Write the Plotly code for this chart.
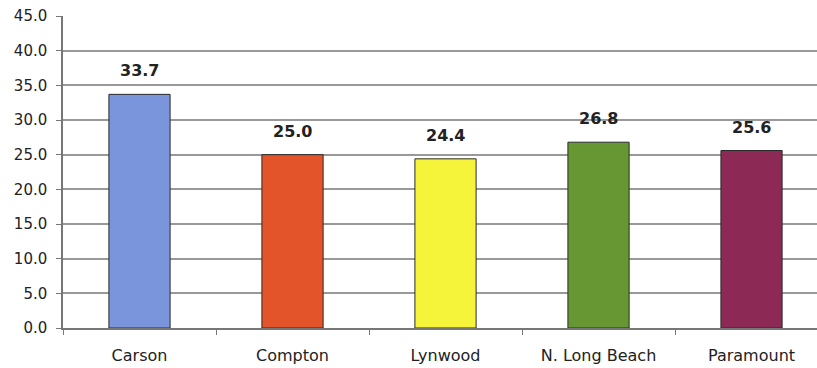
import plotly.graph_objects as go

# Data
cities = ["Carson", "Compton", "Lynwood", "N. Long Beach", "Paramount"]
values = [33.7, 25.0, 24.4, 26.8, 25.6]
colors = ["#7b95dc", "#e3542b", "#f6f43a", "#679733", "#8c2a55"]
y_ticks = [0, 5, 10, 15, 20, 25, 30, 35, 40, 45]

FONT = "DejaVu Sans, Arial, sans-serif"

fig = go.Figure()
fig.add_trace(go.Bar(
    x=cities,
    y=values,
    width=0.4,
    marker=dict(color=colors, line=dict(color="#2a2a2a", width=1)),
    hoverinfo="skip",
))

# Value labels above each bar
for c, v in zip(cities, values):
    fig.add_annotation(
        x=c, y=v, text=f"<b>{v:.1f}</b>", showarrow=False,
        yanchor="bottom", yshift=12,
        font=dict(family=FONT, size=16, color="#222222"),
    )

fig.update_layout(
    width=817, height=368,
    margin=dict(l=63, r=0, t=16, b=40),
    paper_bgcolor="white", plot_bgcolor="white",
    showlegend=False,
    bargap=0.6,
)
fig.update_xaxes(
    type="category",
    range=[-0.5, 4.428],
    showline=True, linecolor="#777777", linewidth=1.5,
    ticks="outside", tickson="boundaries", ticklen=5, tickcolor="#777777",
    ticklabelstandoff=12,
    tickfont=dict(family=FONT, size=16, color="#222222"),
    showgrid=False,
)
fig.update_yaxes(
    range=[0, 45],
    tickvals=y_ticks,
    ticktext=[f"{t:.1f}" for t in y_ticks],
    showline=True, linecolor="#777777", linewidth=1.5,
    ticks="outside", ticklen=5, tickcolor="#777777",
    ticklabelstandoff=6,
    tickfont=dict(family=FONT, size=15, color="#222222"),
    showgrid=True, gridcolor="#999999", gridwidth=1.5,
    zeroline=False,
)

fig.write_html("out.html")
